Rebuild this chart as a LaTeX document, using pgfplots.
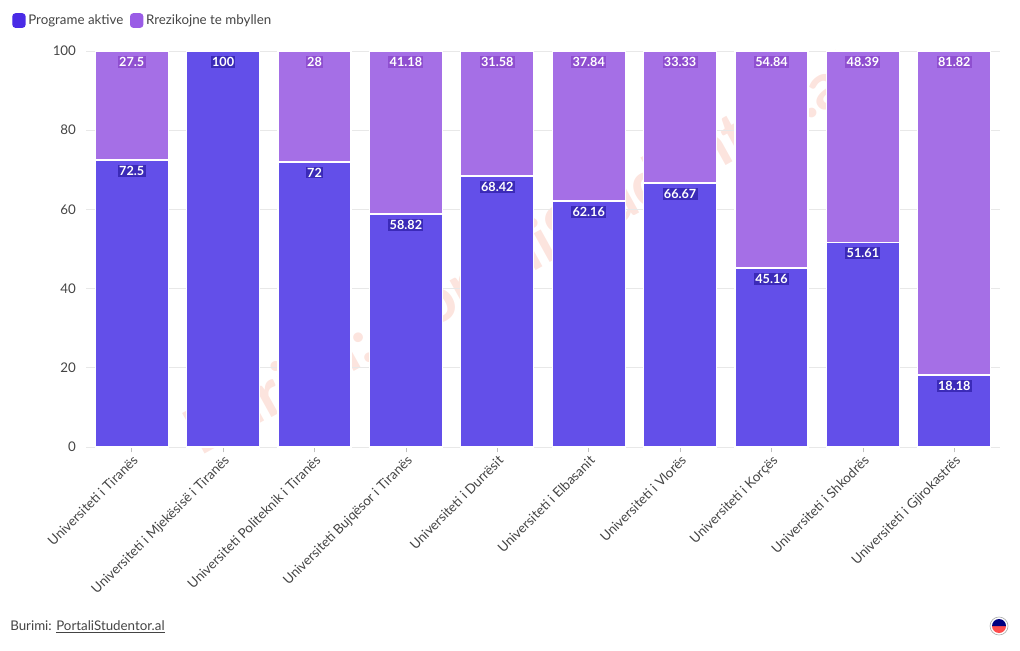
\documentclass[border=0pt]{standalone}
\usepackage{pgfplots}
\pgfplotsset{compat=1.18}
\usepackage{fontspec}
\setmainfont{Lato}
\definecolor{cblue}{HTML}{634FE9}
\definecolor{cpurple}{HTML}{A56FE6}
\definecolor{lblue}{HTML}{4A2BE6}
\definecolor{lpurple}{HTML}{9A5CE6}
\definecolor{hblue}{HTML}{3B2AB8}
\definecolor{hpurple}{HTML}{8F4FD0}
\definecolor{gridc}{HTML}{E8E8E8}
\definecolor{txt}{HTML}{444444}
\definecolor{wm}{HTML}{FCE4DE}
\begin{document}
\begin{tikzpicture}
\path[use as bounding box] (0pt,0pt) rectangle (765pt,487.5pt);
\node[rotate=29, text=wm, font=\bfseries\fontsize{48}{52}\selectfont] at (390pt,298pt) {Burimi: PortaliStudentor.al};
\begin{axis}[
  at={(64.5pt,152.25pt)}, anchor=south west,
  scale only axis, width=685.5pt, height=297pt,
  ybar stacked, bar width=54.75pt,
  xmin=-0.5, xmax=9.5, ymin=0, ymax=100,
  ytick={0,20,...,100},
  xtick={0,...,9},
  xticklabels={Universiteti i Tiranës, Universiteti i Mjekësisë i Tiranës, Universiteti Politeknik i Tiranës, Universiteti Bujqësor i Tiranës, Universiteti i Durrësit, Universiteti i Elbasanit, Universiteti i Vlorës, Universiteti i Korçës, Universiteti i Shkodrës, Universiteti i Gjirokastrës},
  xticklabel style={rotate=45, anchor=north east, inner sep=1pt, text=txt, font=\fontsize{10}{12}\selectfont},
  yticklabel style={text=txt, font=\fontsize{10}{12}\selectfont},
  /pgf/number format/assume math mode=true,
  axis x line*=bottom, axis y line*=left,
  axis line style={draw=none},
  ymajorgrids, grid style={gridc, line width=0.6pt},
  tick align=outside, major tick length=4pt,
  xtick style={draw=gray!50, line width=0.5pt},
  ytick style={draw=none},
  point meta=explicit,
  visualization depends on={rawy \as \ry},
  nodes near coords={\pgfmathfloatifflags{\pgfplotspointmeta}{0}{}{\pgfmathprintnumber{\pgfplotspointmeta}}},
  every node near coord/.append style={font=\bfseries\fontsize{9.5}{10}\selectfont, text=white, inner sep=1pt, anchor=north, yshift=\ry*1.485pt-3pt},
  legend style={at={(-0.0853,1.106)}, anchor=north west, draw=none, fill=none, legend columns=2, font=\fontsize{10}{12}\selectfont, text=txt, /tikz/every even column/.append style={column sep=3pt}},
  legend cell align=left,
]
\addplot[fill=cblue, draw=white, line width=1pt,
  every node near coord/.append style={fill=hblue},
  legend image code/.code={\fill[lblue, rounded corners=2pt] (0pt,-5pt) rectangle (9pt,5pt);}]
  coordinates {(0,72.5)[72.5] (1,100)[100] (2,72)[72] (3,58.82)[58.82] (4,68.42)[68.42] (5,62.16)[62.16] (6,66.67)[66.67] (7,45.16)[45.16] (8,51.61)[51.61] (9,18.18)[18.18]};
\addlegendentry{Programe aktive}
\addplot[fill=cpurple, draw=white, line width=1pt,
  every node near coord/.append style={fill=hpurple},
  legend image code/.code={\fill[lpurple, rounded corners=2pt] (0pt,-5pt) rectangle (9pt,5pt);}]
  coordinates {(0,27.5)[27.5] (1,0)[0] (2,28)[28] (3,41.18)[41.18] (4,31.58)[31.58] (5,37.84)[37.84] (6,33.33)[33.33] (7,54.84)[54.84] (8,48.39)[48.39] (9,81.82)[81.82]};
\addlegendentry{Rrezikojne te mbyllen}
\end{axis}
\node[anchor=west, text=txt, font=\fontsize{10}{12}\selectfont, inner sep=0pt] at (7.5pt,17.25pt) {Burimi: \underline{PortaliStudentor.al}};
\fill[white] (749.25pt,18pt) circle (6.75pt);
\draw[gray!60, line width=0.5pt] (749.25pt,18pt) circle (6.75pt);
\fill[red!70] (744pt,18pt) arc (180:360:5.25pt) -- cycle;
\fill[blue!50!black] (744pt,18pt) arc (180:0:5.25pt) -- cycle;
\end{tikzpicture}
\end{document}
